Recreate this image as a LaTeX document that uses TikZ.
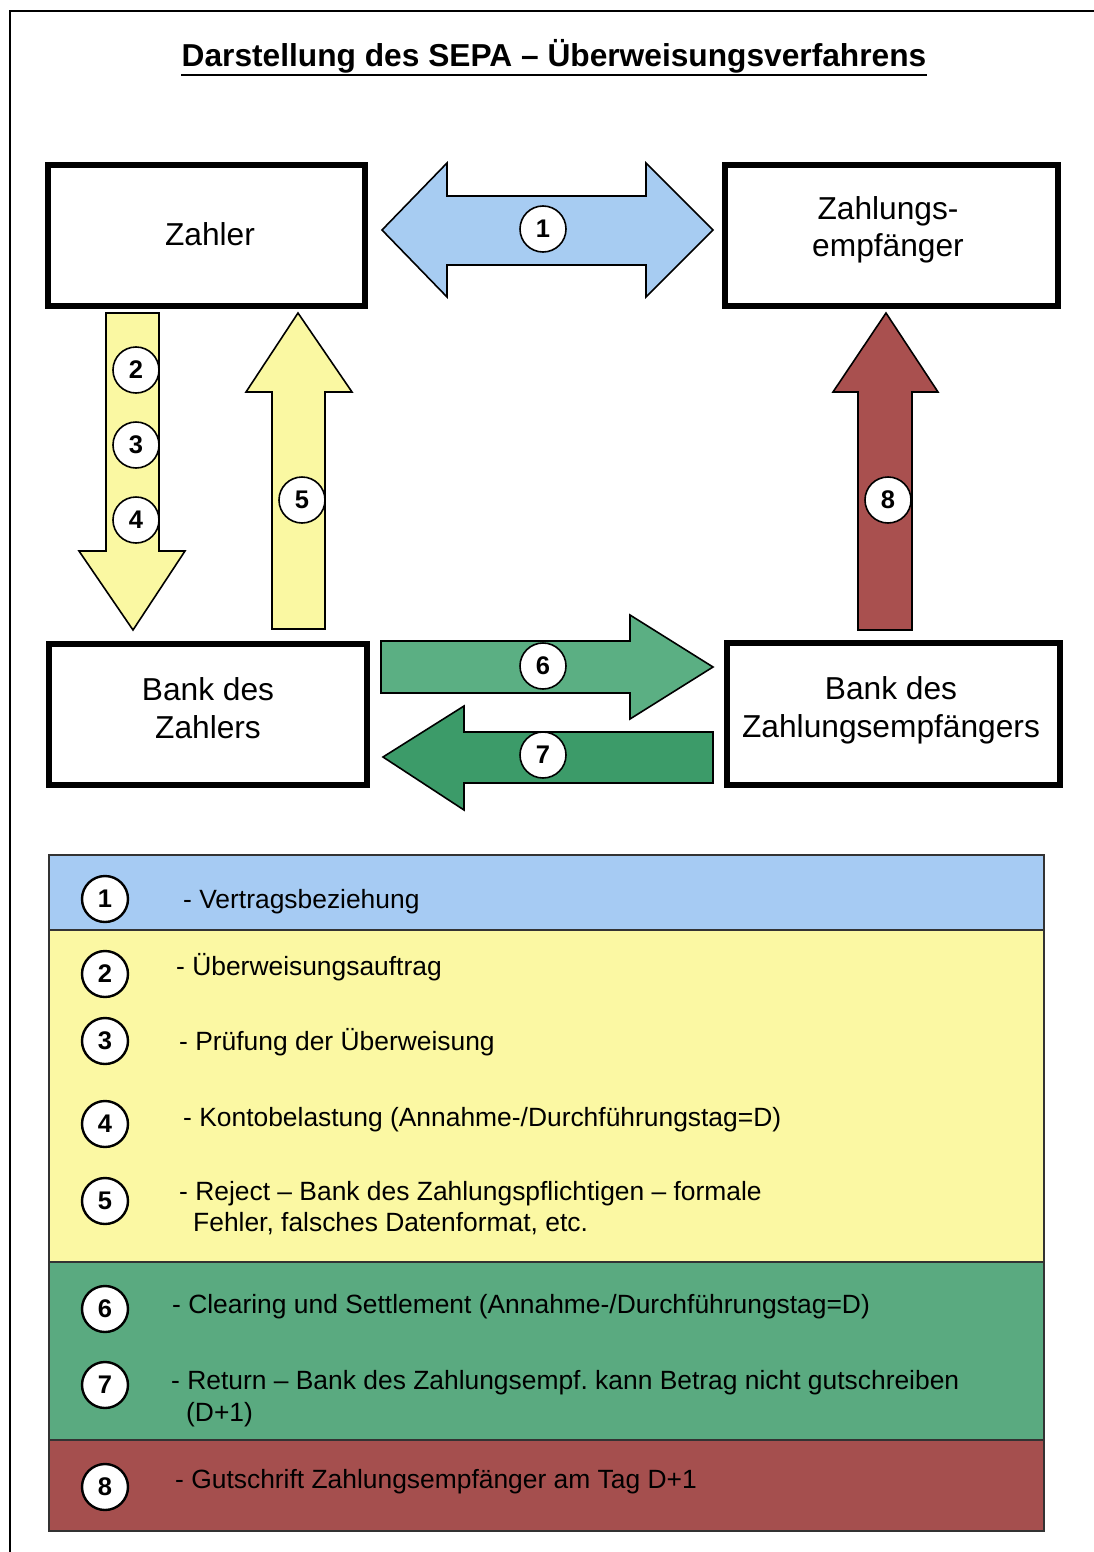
\documentclass[tikz,border=0pt]{standalone}
\usepackage{fontspec}
\setmainfont{Liberation Sans}
\frenchspacing
\definecolor{arrblue}{HTML}{A7CCF2}
\definecolor{arryel}{HTML}{FAF8A2}
\definecolor{arrgreenA}{HTML}{5BAF83}
\definecolor{arrgreenB}{HTML}{3C9B69}
\definecolor{arrred}{HTML}{A9504F}
\definecolor{legblue}{HTML}{A6CBF3}
\definecolor{legyel}{HTML}{FBF8A3}
\definecolor{leggreen}{HTML}{5AAA80}
\definecolor{legred}{HTML}{A54F4E}
\tikzset{
  blockarrow/.style={draw=black, line width=1.6pt, line join=miter},
  numcirc/.style={circle, draw=black, fill=white, line width=1.6pt, minimum size=46pt, inner sep=0pt, font=\fontsize{25.5}{25.5}\selectfont\bfseries},
  legcirc/.style={circle, draw=black, fill=white, line width=2.4pt, minimum size=46pt, inner sep=0pt, font=\fontsize{25.5}{25.5}\selectfont\bfseries},
  boxframe/.style={draw=black, line width=6pt, fill=white},
  boxtext/.style={anchor=base, inner sep=0pt, font=\fontsize{31.7}{38}\selectfont},
  legtext/.style={anchor=base west, inner sep=0pt, font=\fontsize{26.4}{31}\selectfont},
}
\begin{document}
\begin{tikzpicture}[x=1pt, y=-1pt]
\useasboundingbox (0,0) rectangle (1093,1552);
\fill[white] (0,0) rectangle (1093,1552);
% outer frame
\draw[line width=2pt] (10,1560) -- (10,11) -- (1100,11);

% title
\node[anchor=base, inner sep=0pt, font=\fontsize{31.7}{38}\selectfont\bfseries] (title) at (554,67) {Darstellung des SEPA – Überweisungsverfahrens};
\draw[line width=2.5pt] ([yshift=-8pt]title.base west) -- ([yshift=-8pt]title.base east);

% boxes
\draw[boxframe] (48,165) rectangle (365,306);
\draw[boxframe] (725,165) rectangle (1058,306);
\draw[boxframe] (49,644) rectangle (367,785);
\draw[boxframe] (727,643) rectangle (1060,785);
\node[boxtext] (zahler) at (210,245) {Zahler};
\node[boxtext] (empf1) at (888,219) {Zahlungs-};
\node[boxtext] (empf2) at (888,256) {empfänger};
\node[boxtext] (bz1) at (208,700) {Bank des};
\node[boxtext] (bz2) at (208,738) {Zahlers};
\node[boxtext] (be1) at (891,699) {Bank des};
\node[boxtext] (be2) at (891,737) {Zahlungsempfängers};

% block arrows
\filldraw[blockarrow, fill=arrblue] (382,230) -- (447,163) -- (447,196) -- (646,196) -- (646,163) -- (713,230) -- (646,297) -- (646,265) -- (447,265) -- (447,297) -- cycle;
\filldraw[blockarrow, fill=arryel] (106,313) -- (159,313) -- (159,551) -- (185,551) -- (133,630) -- (79,551) -- (106,551) -- cycle;
\filldraw[blockarrow, fill=arryel] (298,313) -- (352,392) -- (325,392) -- (325,629) -- (272,629) -- (272,392) -- (246,392) -- cycle;
\filldraw[blockarrow, fill=arrgreenA] (381,641) -- (630,641) -- (630,615) -- (713,667) -- (630,719) -- (630,693) -- (381,693) -- cycle;
\filldraw[blockarrow, fill=arrgreenB] (713,732) -- (464,732) -- (464,706) -- (383,757) -- (464,810) -- (464,783) -- (713,783) -- cycle;
\filldraw[blockarrow, fill=arrred] (886,313) -- (938,392) -- (912,392) -- (912,630) -- (858,630) -- (858,392) -- (833,392) -- cycle;

% number circles on arrows
\node[numcirc] (a1) at (543,229) {1};
\node[numcirc] (a2) at (136,370) {2};
\node[numcirc] (a3) at (136,445) {3};
\node[numcirc] (a4) at (136,520) {4};
\node[numcirc] (a5) at (302,500) {5};
\node[numcirc] (a6) at (543,666) {6};
\node[numcirc] (a7) at (543,755) {7};
\node[numcirc] (a8) at (888,500) {8};

% legend bands
\fill[legblue] (49,855) rectangle (1044,930);
\fill[legyel] (49,930) rectangle (1044,1262);
\fill[leggreen] (49,1262) rectangle (1044,1440);
\fill[legred] (49,1440) rectangle (1044,1531);
\draw[line width=2pt, draw=black!80] (49,930) -- (1044,930);
\draw[line width=2pt, draw=black!80] (49,1262) -- (1044,1262);
\draw[line width=2pt, draw=black!80] (49,1440) -- (1044,1440);
\draw[line width=2pt, draw=black!80] (49,855) rectangle (1044,1531);

% legend circles
\node[legcirc] (l1) at (105,899) {1};
\node[legcirc] (l2) at (105,974) {2};
\node[legcirc] (l3) at (105,1041) {3};
\node[legcirc] (l4) at (105,1124) {4};
\node[legcirc] (l5) at (105,1201) {5};
\node[legcirc] (l6) at (105,1309) {6};
\node[legcirc] (l7) at (105,1385) {7};
\node[legcirc] (l8) at (105,1487) {8};

% legend texts
\node[legtext] (t1) at (183,908) {- Vertragsbeziehung};
\node[legtext] (t2) at (176,975) {- Überweisungsauftrag};
\node[legtext] (t3) at (179,1050) {- Prüfung der Überweisung};
\node[legtext] (t4) at (183,1126) {- Kontobelastung (Annahme-/Durchführungstag=D)};
\node[legtext] (t5a) at (179,1200) {- Reject – Bank des Zahlungspflichtigen – formale};
\node[legtext] (t5b) at (193,1231) {Fehler, falsches Datenformat, etc.};
\node[legtext] (t6) at (172,1313) {- Clearing und Settlement (Annahme-/Durchführungstag=D)};
\node[legtext] (t7a) at (171,1389) {- Return – Bank des Zahlungsempf. kann Betrag nicht gutschreiben};
\node[legtext] (t7b) at (186,1421) {(D+1)};
\node[legtext] (t8) at (175,1488) {- Gutschrift Zahlungsempfänger am Tag D+1};
\end{tikzpicture}
\end{document}
